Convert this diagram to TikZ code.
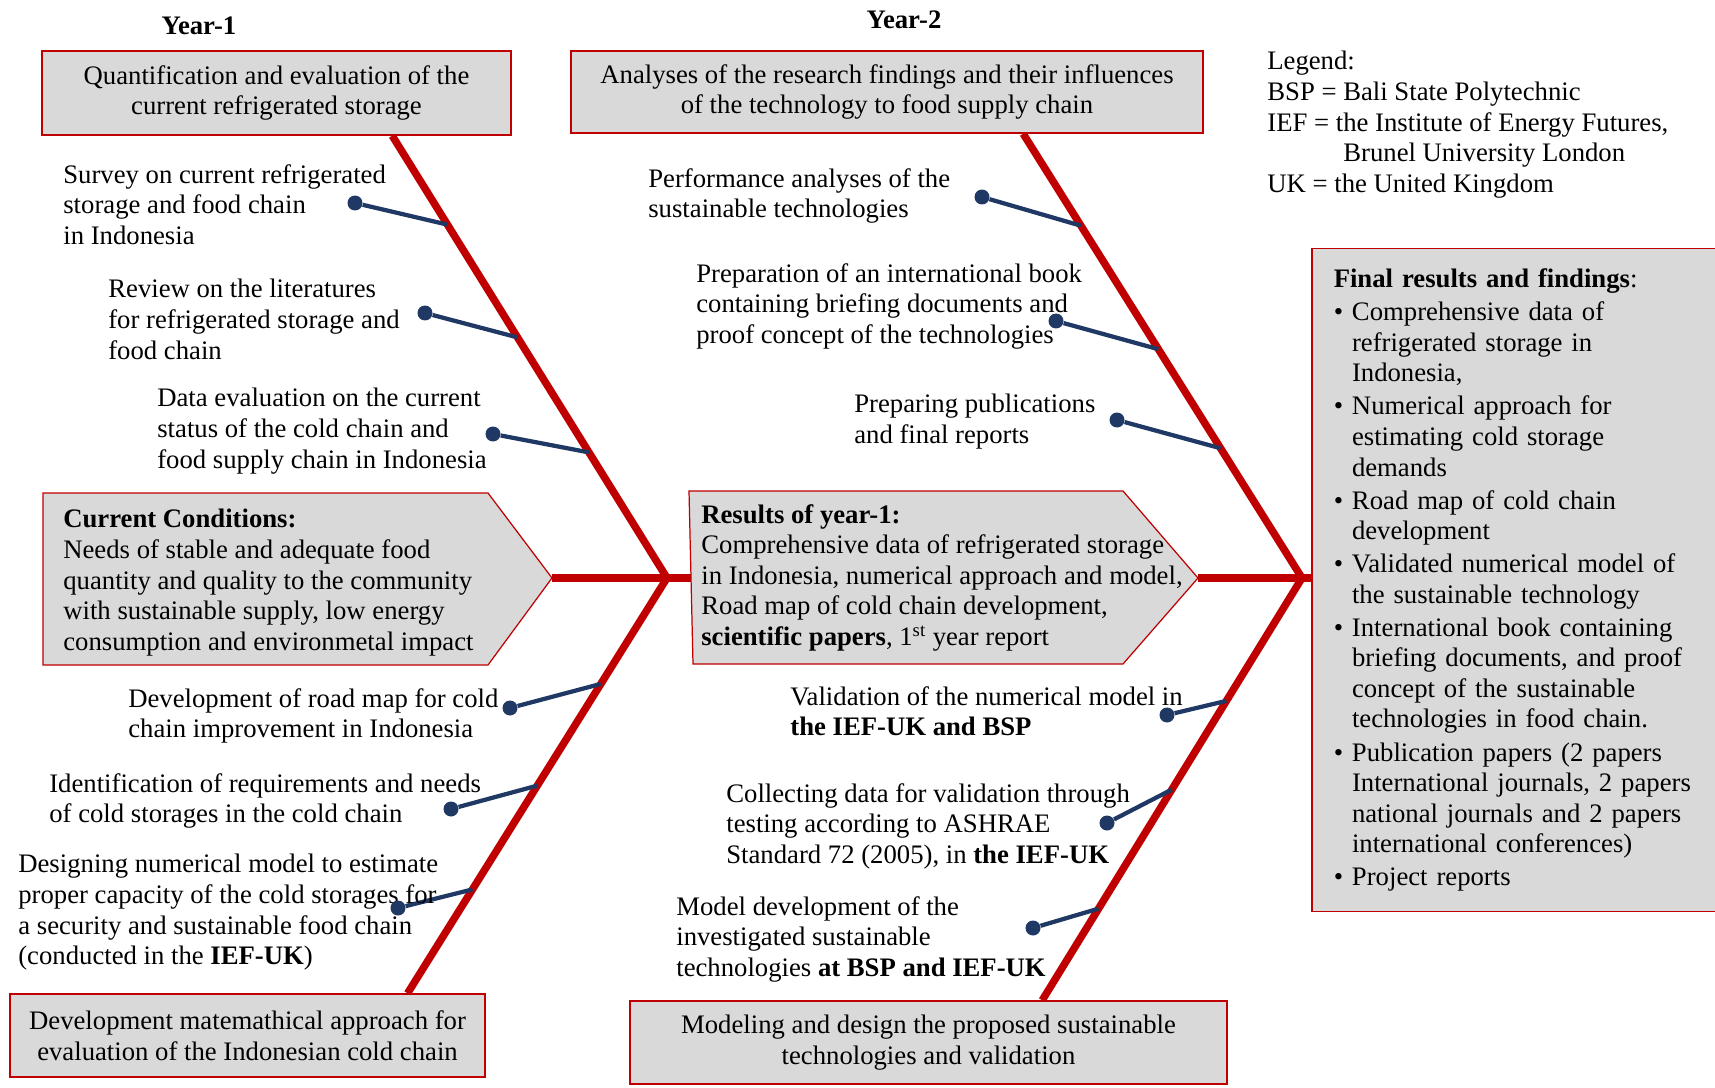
\documentclass[tikz,border=0pt]{standalone}
\usepackage{fontspec}
\setmainfont{Liberation Serif}
\usepackage{tikz}
\usetikzlibrary{calc, backgrounds}
\usepackage{xcolor}
\definecolor{bonered}{RGB}{192,0,0}
\definecolor{boxgray}{RGB}{217,217,217}
\definecolor{twigblue}{RGB}{31,56,100}
\newcommand{\fbul}{\textbullet\ }
\newcommand{\fcont}{\phantom{\textbullet\ }}

\begin{document}
\begin{tikzpicture}[x=0.02cm, y=-0.02cm,
  every node/.style={font=\fontsize{15.2}{17.4}\selectfont, inner sep=0pt},
  box/.style={draw=bonered, line width=0.85pt, fill=boxgray, align=center},
  pent/.style={draw=bonered, line width=0.7pt, fill=boxgray},
  note/.style={anchor=north west, align=left},
  bone/.style={bonered, line width=0.15cm, line join=miter},
  twig/.style={twigblue, line width=0.085cm},
  twigend/.style={circle, fill=twigblue, minimum size=0.3cm}]
  \useasboundingbox (0,0) rectangle (1715,1088);

  % Year headings
  \node[anchor=base, font=\fontsize{15.2}{17.4}\selectfont\bfseries] (yr1) at (199,35) {Year-1};
  \node[anchor=base, font=\fontsize{15.2}{17.4}\selectfont\bfseries] (yr2) at (904,29) {Year-2};

  % Head and tail boxes
  \node[box, minimum width=9.38cm, minimum height=1.68cm] (qbox) at (276.5,93)
    {Quantification and evaluation of the\\current refrigerated storage};
  \node[box, minimum width=12.64cm, minimum height=1.64cm] (abox) at (887,92)
    {Analyses of the research findings and their influences\\of the technology to food supply chain};
  \node[box, minimum width=9.5cm, minimum height=1.66cm] (dbox) at (247.5,1035.5)
    {Development matemathical approach for\\evaluation of the Indonesian cold chain};
  \node[box, minimum width=11.94cm, minimum height=1.66cm] (mbox) at (928.5,1042.5)
    {Modeling and design the proposed sustainable\\technologies and validation};

  % Legend
  \node[note] (legend) at (1267,51) {Legend:\\BSP = Bali State Polytechnic\\IEF = the Institute of Energy Futures,\\\hspace*{1.52cm}Brunel University London\\UK = the United Kingdom};

  % Current conditions
  \draw[pent] (43,493) -- (488,493) -- (552,578) coordinate (cctip) -- (488,665) -- (43,665) -- cycle;
  \node[note] (cc) at (63,509) {\textbf{Current Conditions:}\\Needs of stable and adequate food\\quantity and quality to the community\\with sustainable supply, low energy\\consumption and environmetal impact};

  % Results of year-1
  \draw[pent] (689,491) -- (1123,491) -- (1198,578) coordinate (rstip) -- (1123,664) -- (693,664) -- cycle;
  \coordinate (rsin) at (691,578);
  \node[note] (rs) at (701,504) {\textbf{Results of year-1:}\\Comprehensive data of refrigerated storage\\in Indonesia, numerical approach and model,\\Road map of cold chain development,\\\textbf{scientific papers}, 1\textsuperscript{st} year report};

  % Final results
  \node[box, anchor=north west, align=left, text width=7.7cm, inner xsep=0.44cm, minimum height=13.26cm] (fbox) at (1311,248)
    {\textbf{Final results and findings}:\\[1.4pt]
     \fbul Comprehensive data of\\\fcont refrigerated storage in\\\fcont Indonesia,\\[1.4pt]
     \fbul Numerical approach for\\\fcont estimating cold storage\\\fcont demands\\[1.4pt]
     \fbul Road map of cold chain\\\fcont development\\[1.4pt]
     \fbul Validated numerical model of\\\fcont the sustainable technology\\[1.4pt]
     \fbul International book containing\\\fcont briefing documents, and proof\\\fcont concept of the sustainable\\\fcont technologies in food chain.\\[1.4pt]
     \fbul Publication papers (2 papers\\\fcont International journals, 2 papers\\\fcont national journals and 2 papers\\\fcont international conferences)\\[1.4pt]
     \fbul Project reports\par\vspace{0.14cm}};

  % Year-1 items
  \node[note] (s1) at (63,164) {Survey on current refrigerated\\storage and food chain\\in Indonesia};
  \node[note] (s2) at (108,279) {Review on the literatures\\for refrigerated storage and\\food chain};
  \node[note] (s3) at (157,388) {Data evaluation on the current\\status of the cold chain and\\food supply chain in Indonesia};
  \node[note] (s4) at (128,688) {Development of road map for cold\\chain improvement in Indonesia};
  \node[note] (s5) at (49,773) {Identification of requirements and needs\\of cold storages in the cold chain};
  \node[note] (s6) at (18,854) {Designing numerical model to estimate\\proper capacity of the cold storages for\\a security and sustainable food chain\\(conducted in the \textbf{IEF-UK})};

  % Year-2 items
  \node[note] (s7) at (648,168) {Performance analyses of the\\sustainable technologies};
  \node[note] (s8) at (696,263) {Preparation of an international book\\containing briefing documents and\\proof concept of the technologies};
  \node[note] (s9) at (854,394) {Preparing publications\\and final reports};
  \node[note] (s10) at (790,686) {Validation of the numerical model in\\\textbf{the IEF-UK and BSP}};
  \node[note] (s11) at (726,783) {Collecting data for validation through\\testing according to ASHRAE\\Standard 72 (2005), in \textbf{the IEF-UK}};
  \node[note] (s12) at (676,896) {Model development of the\\investigated sustainable\\technologies \textbf{at BSP and IEF-UK}};

  % Twig ends
  \node[twigend] (tw1) at (355,203) {};
  \node[twigend] (tw2) at (425,313) {};
  \node[twigend] (tw3) at (493,434) {};
  \node[twigend] (tw4) at (510,708) {};
  \node[twigend] (tw5) at (451,809) {};
  \node[twigend] (tw6) at (398,908) {};
  \node[twigend] (tw7) at (982,197) {};
  \node[twigend] (tw8) at (1056,321) {};
  \node[twigend] (tw9) at (1117,420) {};
  \node[twigend] (tw10) at (1167,715) {};
  \node[twigend] (tw11) at (1107,823) {};
  \node[twigend] (tw12) at (1033,928) {};

  % Spine and bones
  \coordinate (jn1) at (667,578);
  \coordinate (jn2) at (1302,578);
  \coordinate (qfoot) at ($(qbox.south west)!0.746!(qbox.south east)$);
  \coordinate (dhead) at ($(dbox.north west)!0.836!(dbox.north east)$);
  \coordinate (afoot) at ($(abox.south west)!0.715!(abox.south east)$);
  \coordinate (mhead) at ($(mbox.north west)!0.69!(mbox.north east)$);
  \begin{scope}[on background layer]
    \draw[bone] (cctip) -- (jn1) -- (rsin);
    \draw[bone] (rstip) -- (jn2) -- (fbox.west |- jn2);
    \draw[bone] (qfoot) -- (jn1) -- (dhead);
    \draw[bone] (afoot) -- (jn2) -- (mhead);
    % twigs
    \draw[twig] (tw1) -- ($(qfoot)!0.201!(jn1)$);
    \draw[twig] (tw2) -- ($(qfoot)!0.456!(jn1)$);
    \draw[twig] (tw3) -- ($(qfoot)!0.716!(jn1)$);
    \draw[twig] (tw4) -- ($(jn1)!0.255!(dhead)$);
    \draw[twig] (tw5) -- ($(jn1)!0.5!(dhead)$);
    \draw[twig] (tw6) -- ($(jn1)!0.75!(dhead)$);
    \draw[twig] (tw7) -- ($(afoot)!0.207!(jn2)$);
    \draw[twig] (tw8) -- ($(afoot)!0.485!(jn2)$);
    \draw[twig] (tw9) -- ($(afoot)!0.708!(jn2)$);
    \draw[twig] (tw10) -- ($(jn2)!0.291!(mhead)$);
    \draw[twig] (tw11) -- ($(jn2)!0.501!(mhead)$);
    \draw[twig] (tw12) -- ($(jn2)!0.783!(mhead)$);
  \end{scope}
\end{tikzpicture}
\end{document}
